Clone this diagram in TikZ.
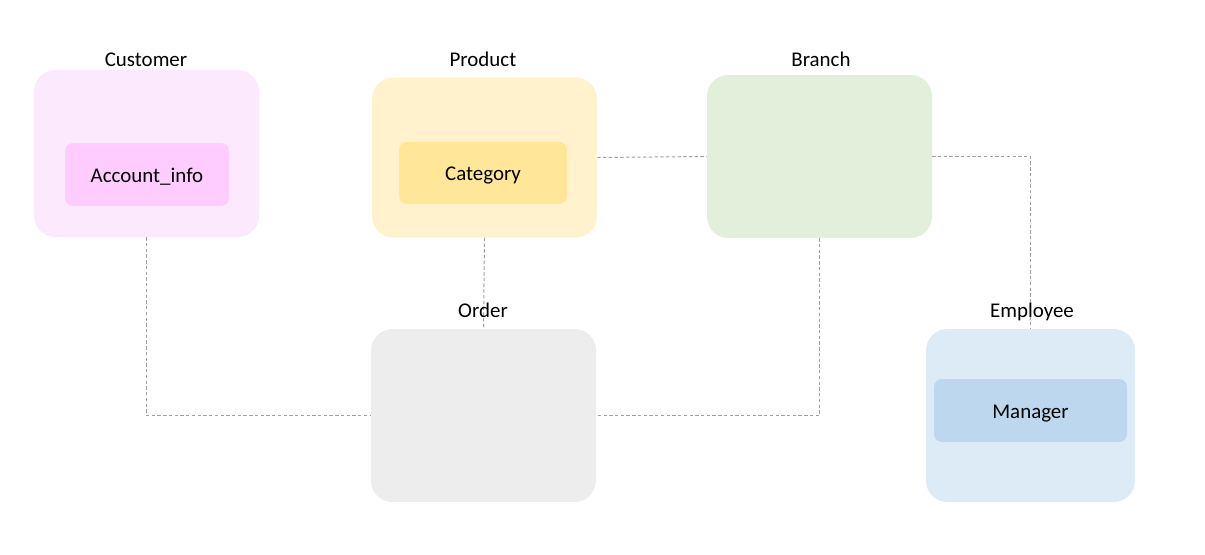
\documentclass[tikz,border=0pt]{standalone}
\usepackage{fontspec}
\setmainfont{Carlito}
\definecolor{custO}{HTML}{FDE9FD}
\definecolor{custI}{HTML}{FFCCFF}
\definecolor{prodO}{HTML}{FFF2CC}
\definecolor{prodI}{HTML}{FFE699}
\definecolor{branO}{HTML}{E2EFDA}
\definecolor{ordO}{HTML}{EDEDED}
\definecolor{empO}{HTML}{DDEBF7}
\definecolor{empI}{HTML}{BDD7EE}
\definecolor{linkc}{HTML}{A0A0A0}
\tikzset{
  outerbox/.style={rounded corners=16pt, inner sep=0pt, draw=none},
  innerbox/.style={rounded corners=6pt, inner sep=0pt, draw=none, text height=11.6pt, text depth=0pt, font=\fontsize{15.7}{19}\selectfont},
  title/.style={inner sep=0pt, text height=11.4pt, text depth=0pt, font=\fontsize{15.7}{19}\selectfont},
  link/.style={draw=linkc, line width=0.75pt, dash pattern=on 2.5pt off 1.8pt},
}
\begin{document}
\begin{tikzpicture}[x=0.75pt,y=-0.75pt]
\useasboundingbox (0,0) rectangle (1205,554);
% outer boxes
\node[outerbox, fill=custO, minimum width={225*0.75pt}, minimum height={167*0.75pt}] (cust) at (146.5,153.5) {};
\node[outerbox, fill=prodO, minimum width={225*0.75pt}, minimum height={160*0.75pt}] (prod) at (484.5,157.5) {};
\node[outerbox, fill=branO, minimum width={225*0.75pt}, minimum height={163*0.75pt}] (bran) at (819.5,156.5) {};
\node[outerbox, fill=ordO, minimum width={225*0.75pt}, minimum height={173*0.75pt}] (ord) at (483.5,415.5) {};
\node[outerbox, fill=empO, minimum width={209*0.75pt}, minimum height={173*0.75pt}] (emp) at (1030.5,415.5) {};
% inner boxes
\node[innerbox, fill=custI, minimum width={164*0.75pt}, minimum height={63*0.75pt}] (acc) at (147,174.5) {Account\_info};
\node[innerbox, fill=prodI, minimum width={168*0.75pt}, minimum height={62*0.75pt}] (cat) at (483,173) {Category};
\node[innerbox, fill=empI, minimum width={193*0.75pt}, minimum height={63*0.75pt}] (man) at (1030.5,410.5) {Manager};
% connectors
\draw[link] (cust.south) |- (ord.west);
\draw[link] (prod.south) -- (ord.north);
\draw[link] (prod.east) -- (bran.west);
\draw[link] (bran.east) -| (emp.north);
\draw[link] (bran.south) |- (ord.east);
% titles
\node[title] (tcust) at (146,59) {Customer};
\node[title] (tprod) at (483,59) {Product};
\node[title] (tbran) at (821,59) {Branch};
\node[title] (tord) at (483,310) {Order};
\node[title] (temp) at (1032,310) {Employee};
\end{tikzpicture}
\end{document}
